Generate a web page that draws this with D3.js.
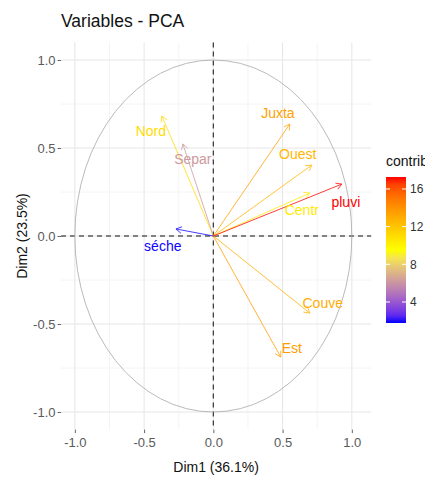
<!DOCTYPE html>
<html>
<head>
<meta charset="utf-8">
<script src="https://cdn.jsdelivr.net/npm/d3@7"></script>
<style>
  html, body { margin: 0; padding: 0; background: #fff; }
  svg { display: block; font-family: "Liberation Sans", Arial, sans-serif; }
</style>
</head>
<body>
<svg id="chart" width="425" height="480"></svg>
<script>
// ---- data ----
const variables = ["Nord", "Separ", "Juxta", "Ouest", "Centr", "Couve", "Est", "séche", "pluvi"];
const dim1      = [-0.372, -0.220, 0.552, 0.711, 0.697, 0.697, 0.487, -0.270, 0.928];
const dim2      = [ 0.682,  0.523, 0.636, 0.403, 0.244, -0.438, -0.688, 0.040, 0.295];
const contrib   = [ 11.0,   6.2,  13.4, 12.6, 10.4, 12.9, 13.6, 1.8, 17.3];
// label anchor positions (data units)
const labelX    = [-0.451, -0.148, 0.466, 0.610, 0.639, 0.790, 0.567, -0.365, 0.957];
const labelY    = [ 0.597,  0.438, 0.699, 0.466, 0.148, -0.380, -0.636, -0.057, 0.193];
const xTicks = [-1.0, -0.5, 0.0, 0.5, 1.0];
const yTicks = [-1.0, -0.5, 0.0, 0.5, 1.0];
const minorTicks = [-0.75, -0.25, 0.25, 0.75];
const legendTicks = [4, 8, 12, 16];
const contribMin = 1.77, contribMax = 17.27;
const title = "Variables - PCA";
const xTitle = "Dim1 (36.1%)";
const yTitle = "Dim2 (23.5%)";

// ---- scales ----
const svg = d3.select("#chart");
const x = d3.scaleLinear().domain([-1.1, 1.14]).range([61, 371.2]);
const y = d3.scaleLinear().domain([-1.1, 1.1]).range([429.6, 42.4]);
const [px0, px1] = x.range();
const [py1, py0] = y.range();

const colorInterp = d3.piecewise(d3.interpolateLab, ["blue", "yellow", "red"]);
const cnorm = d3.scaleLinear().domain([contribMin, contribMax]).range([0, 1]).clamp(true);
const color = v => colorInterp(cnorm(v));

// ---- grid ----
const grid = svg.append("g");
minorTicks.forEach(t => {
  grid.append("line").attr("x1", x(t)).attr("x2", x(t)).attr("y1", py0).attr("y2", py1)
    .attr("stroke", "#f1f1f1").attr("stroke-width", 0.8);
  grid.append("line").attr("y1", y(t)).attr("y2", y(t)).attr("x1", px0).attr("x2", px1)
    .attr("stroke", "#f1f1f1").attr("stroke-width", 0.8);
});
xTicks.forEach(t => {
  grid.append("line").attr("x1", x(t)).attr("x2", x(t)).attr("y1", py0).attr("y2", py1)
    .attr("stroke", "#e6e6e6").attr("stroke-width", 1);
});
yTicks.forEach(t => {
  grid.append("line").attr("y1", y(t)).attr("y2", y(t)).attr("x1", px0).attr("x2", px1)
    .attr("stroke", "#e6e6e6").attr("stroke-width", 1);
});

// ---- axes ----
const xAxis = d3.axisBottom(x).tickValues(xTicks).tickFormat(d3.format(".1f")).tickSize(3.5).tickPadding(5);
const yAxis = d3.axisLeft(y).tickValues(yTicks).tickFormat(d3.format(".1f")).tickSize(3.5).tickPadding(2);
const gx = svg.append("g").attr("transform", `translate(0,${py1})`).call(xAxis);
const gy = svg.append("g").attr("transform", `translate(${px0},0)`).call(yAxis);
[gx, gy].forEach(g => {
  g.select(".domain").remove();
  g.selectAll(".tick line").attr("stroke", "#666");
  g.selectAll(".tick text").attr("fill", "#5a5a5a").style("font-size", "13px")
    .style("font-family", '"Liberation Sans", Arial, sans-serif');
});
gx.selectAll(".tick text").text(d => d3.format(".1f")(d).replace("−", "-"));
gy.selectAll(".tick text").text(d => d3.format(".1f")(d).replace("−", "-"));

// ---- reference lines ----
svg.append("line").attr("x1", px0).attr("x2", px1).attr("y1", y(0)).attr("y2", y(0))
  .attr("stroke", "#111").attr("stroke-width", 1.2).attr("stroke-dasharray", "5,4");
svg.append("line").attr("x1", x(0)).attr("x2", x(0)).attr("y1", py0).attr("y2", py1)
  .attr("stroke", "#333").attr("stroke-width", 1.2).attr("stroke-dasharray", "5,4");

// ---- correlation circle ----
svg.append("ellipse").attr("cx", x(0)).attr("cy", y(0))
  .attr("rx", x(1) - x(0)).attr("ry", y(0) - y(1))
  .attr("fill", "none").attr("stroke", "#a8a8a8").attr("stroke-width", 0.8);

// ---- arrows ----
const arrows = svg.append("g").attr("opacity", 0.85);
variables.forEach((v, i) => {
  const x0 = x(0), y0 = y(0), x1 = x(dim1[i]), y1 = y(dim2[i]);
  const c = color(contrib[i]);
  arrows.append("line").attr("x1", x0).attr("y1", y0).attr("x2", x1).attr("y2", y1)
    .attr("stroke", c).attr("stroke-width", 0.9);
  const ang = Math.atan2(y1 - y0, x1 - x0);
  const L = 6.5, a = Math.PI / 6;
  const p1 = [x1 - L * Math.cos(ang - a), y1 - L * Math.sin(ang - a)];
  const p2 = [x1 - L * Math.cos(ang + a), y1 - L * Math.sin(ang + a)];
  arrows.append("path")
    .attr("d", `M${p1[0]},${p1[1]}L${x1},${y1}L${p2[0]},${p2[1]}`)
    .attr("fill", "none").attr("stroke", c).attr("stroke-width", 0.9);
});

// ---- labels ----
const labels = svg.append("g");
variables.forEach((v, i) => {
  labels.append("text").attr("x", x(labelX[i])).attr("y", y(labelY[i])).attr("dy", "0.35em")
    .attr("text-anchor", "middle").attr("fill", color(contrib[i]))
    .style("font-size", "14px").text(v);
});

// ---- titles ----
svg.append("text").attr("x", 61).attr("y", 27).style("font-size", "17.5px").attr("fill", "#111").text(title);
svg.append("text").attr("x", (px0 + px1) / 2).attr("y", 472).attr("text-anchor", "middle")
  .style("font-size", "14px").attr("fill", "#111").text(xTitle);
svg.append("text").attr("transform", `translate(27,${y(0)}) rotate(-90)`).attr("text-anchor", "middle")
  .style("font-size", "14px").attr("fill", "#111").text(yTitle);

// ---- legend ----
const lg = svg.append("g");
const barX = 386, barW = 20, barTop = 177, barBot = 323;
const ly = d3.scaleLinear().domain([contribMin, contribMax]).range([barBot, barTop]);
const defs = svg.append("defs");
const grad = defs.append("linearGradient").attr("id", "cgrad")
  .attr("x1", 0).attr("y1", 1).attr("x2", 0).attr("y2", 0);
d3.range(0, 1.0001, 0.05).forEach(t => {
  grad.append("stop").attr("offset", t).attr("stop-color", colorInterp(t));
});
lg.append("rect").attr("x", barX).attr("y", barTop).attr("width", barW).attr("height", barBot - barTop)
  .attr("fill", "url(#cgrad)");
legendTicks.forEach(t => {
  lg.append("line").attr("x1", barX).attr("x2", barX + 4).attr("y1", ly(t)).attr("y2", ly(t))
    .attr("stroke", "#fff").attr("stroke-width", 1);
  lg.append("line").attr("x1", barX + barW - 4).attr("x2", barX + barW).attr("y1", ly(t)).attr("y2", ly(t))
    .attr("stroke", "#fff").attr("stroke-width", 1);
  lg.append("text").attr("x", barX + barW + 4).attr("y", ly(t)).attr("dy", "0.35em")
    .style("font-size", "12px").attr("fill", "#333").text(t);
});
lg.append("text").attr("x", barX).attr("y", 166).style("font-size", "14px").attr("fill", "#111").text("contrib");
</script>
</body>
</html>
